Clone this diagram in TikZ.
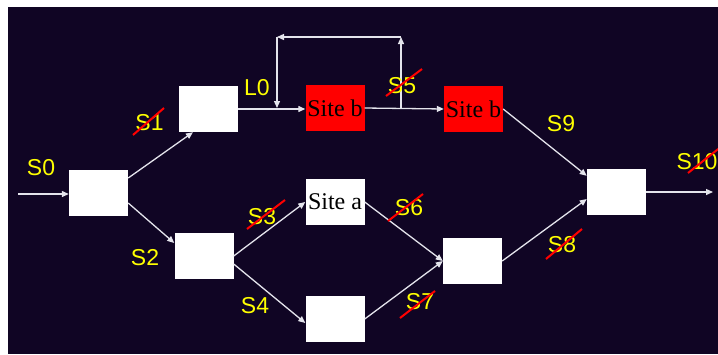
\documentclass[tikz,border=0pt]{standalone}
\usepackage{fontspec}
\setmainfont{Liberation Serif}
\setsansfont{Liberation Sans}
\usetikzlibrary{arrows.meta}

\definecolor{slidebg}{RGB}{16,5,36}
\definecolor{labyellow}{RGB}{255,255,0}
\definecolor{linkgray}{RGB}{228,228,236}

\tikzset{
  box/.style={fill=white,minimum width=59pt,minimum height=46pt,inner sep=0pt,
    font=\fontsize{24}{24}\selectfont},
  sitebox/.style={box,fill=red},
  link/.style={draw=linkgray,line width=1.3pt,-{Triangle[length=7pt,width=6pt]}},
  lab/.style={text=labyellow,inner sep=0pt,font=\sffamily\fontsize{23}{23}\selectfont},
  strike/.style={draw=red,line width=2pt},
}

\begin{document}
\begin{tikzpicture}[x=1pt,y=-1pt]
    \useasboundingbox (0,0) rectangle (718,354);
    \fill[white] (0,0) rectangle (718,354);
    \fill[slidebg] (8,7) rectangle (718,354);

    % boxes
    \node[box] (in) at (98.5,192.5) {};
    \node[box] (up) at (208.5,109) {};
    \node[box] (low) at (204,256) {};
    \node[sitebox] (sb1) at (335,108) {Site b};
    \node[sitebox] (sb2) at (473.5,109) {Site b};
    \node[box] (sa) at (335,202) {Site a};
    \node[box] (bot) at (335,319) {};
    \node[box] (mrg) at (472.5,261) {};
    \node[box] (out) at (616.5,192) {};

    % free ends
    \coordinate (src) at (18,194);
    \coordinate (sink) at (713,192);
    \coordinate (lpB) at (401,108);
    \coordinate (lpR) at (401,37);
    \coordinate (lpL) at (277,37);

    % connectors
    \draw[link] (src) -- (src -| in.west);
    \draw[link] (in.26) -- ([xshift=-15.5pt]up.south);
    \draw[link] ([yshift=-10.5pt]in.east) -- ([yshift=13pt]low.west);
    \draw[link] (up.east) -- (up.east -| sb1.west);
    \draw[link] (sb1.east) -- (sb2.west);
    \draw[link] (lpB) -- (lpR);
    \draw[link] (lpR) -- (lpL);
    \draw[link] (lpL) -- (lpL |- sb1.west);
    \draw[link] (sb2.east) -- ([yshift=-7pt]out.north west);
    \draw[link] (low.east) -- (sa.west);
    \draw[link] ([yshift=-8pt]low.east) -- ([yshift=-4pt]bot.west);
    \draw[link] (sa.east) -- (mrg.west);
    \draw[link] (bot.east) -- (mrg.west);
    \draw[link] (mrg.east) -- ([yshift=-7pt]out.west);
    \draw[link] (out.east) -- (sink);

    % labels
    \node[lab] (s0) at (41,168) {S0};
    \node[lab] (s1) at (149.5,123) {S1};
    \node[lab] (l0) at (257,88) {L0};
    \node[lab] (s2) at (145,258) {S2};
    \node[lab] (s3) at (262,217) {S3};
    \node[lab] (s4) at (255,306) {S4};
    \node[lab] (s5) at (402,86) {S5};
    \node[lab] (s6) at (409,208) {S6};
    \node[lab] (s7) at (420,302) {S7};
    \node[lab] (s8) at (562,245) {S8};
    \node[lab] (s9) at (561,124) {S9};
    \node[lab] (s10) at (697,162) {S10};

    % crossed out
    \draw[strike] (133,135) -- (164,108);
    \draw[strike] (247,229) -- (285,200);
    \draw[strike] (386,96) -- (422,69);
    \draw[strike] (388,221) -- (423,194);
    \draw[strike] (400,318) -- (435,291);
    \draw[strike] (546,259) -- (582,229);
    \draw[strike] (688,173) -- (722,146);
\end{tikzpicture}
\end{document}
